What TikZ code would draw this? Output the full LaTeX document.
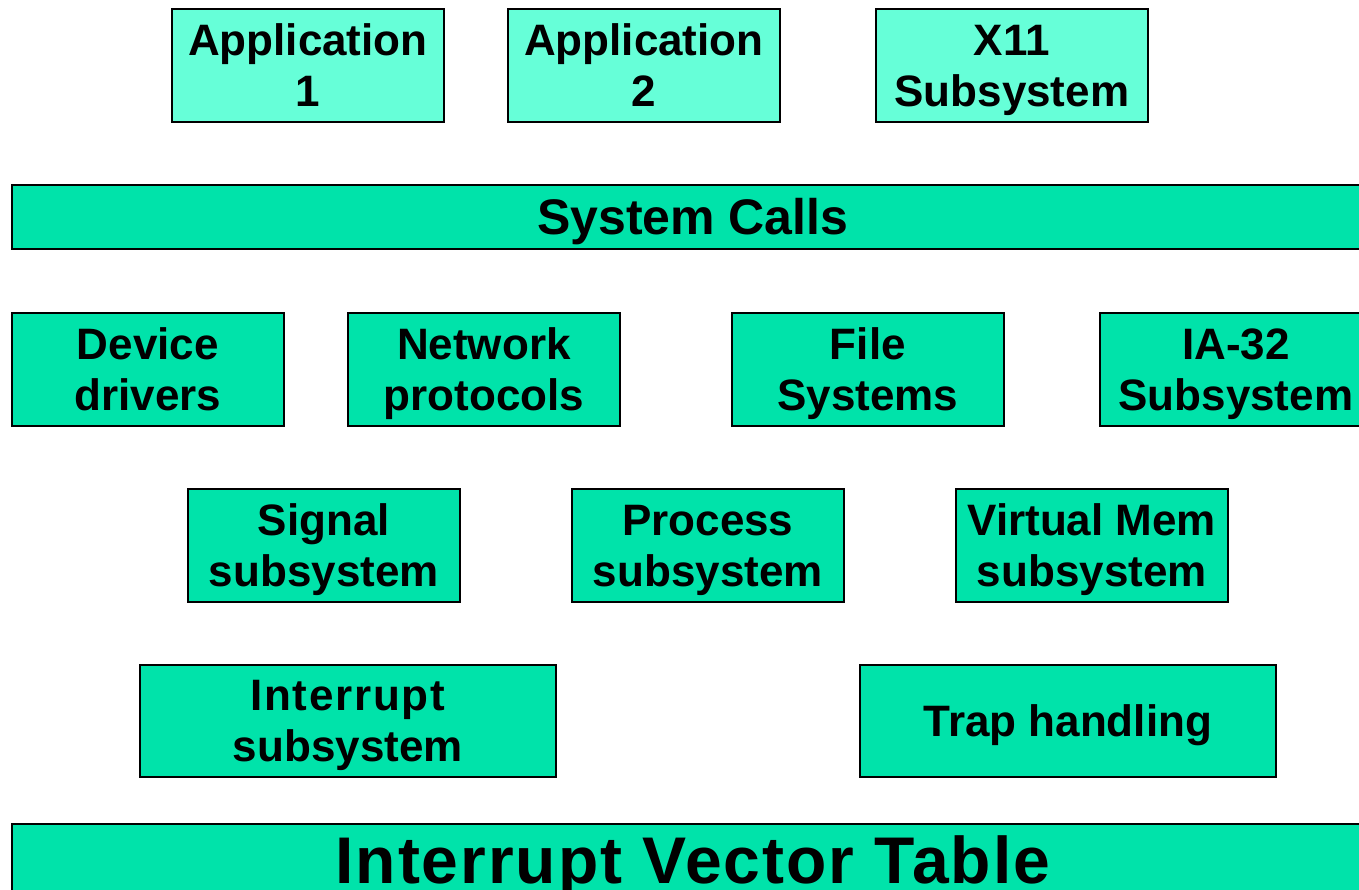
\documentclass[tikz,border=0pt]{standalone}
\usepackage{fontspec}
\setmainfont{Liberation Sans}
\definecolor{boxA}{HTML}{66FFD8}
\definecolor{boxB}{HTML}{00E3AA}
\newcommand{\sst}{\rule[-0.18em]{0pt}{1.09em}}
\newcommand{\twol}[2]{\sst #1\\#2\sst}
\begin{document}
\begin{tikzpicture}[x=1pt,y=1pt,
  blk/.style={draw=black, line width=1.6pt, fill=boxB, inner sep=0pt, align=center,
    font=\fontsize{44}{51}\selectfont\bfseries, minimum width=272pt, minimum height=113pt, anchor=north west},
  app/.style={blk, fill=boxA},
  wideblk/.style={blk, minimum width=416pt, minimum height=112pt}]
\useasboundingbox (0,0) rectangle (1359,889);
\clip (0,0) rectangle (1359,889);
% applications
\node[app] (app1) at (171,881) {\twol{Application}{1}};
\node[app] (app2) at (507,881) {\twol{Application}{2}};
\node[app] (x11) at (875,881) {\twol{X11}{Subsystem}};
% system calls
\node[blk, minimum width=1362pt, minimum height=64pt, font=\fontsize{50}{56}\selectfont\bfseries] (sys) at (11,705) {\sst System Calls};
% middle row
\node[blk] (dev) at (11,577) {\twol{Device}{drivers}};
\node[blk] (net) at (347,577) {\twol{Network}{protocols}};
\node[blk] (fs) at (731,577) {\twol{File}{Systems}};
\node[blk] (ia) at (1099,577) {\twol{IA-32}{Subsystem}};
% subsystems
\node[blk] (sig) at (187,401) {\twol{Signal}{subsystem}};
\node[blk] (proc) at (571,401) {\twol{Process}{subsystem}};
\node[blk] (vm) at (955,401) {\twol{Virtual Mem}{subsystem}};
% interrupt / trap
\node[wideblk] (intr) at (139,225) {\twol{{\addfontfeature{LetterSpace=4}Interrupt}}{subsystem}};
\node[wideblk] (trap) at (859,225) {\sst Trap handling};
% vector table
\node[blk, minimum width=1362pt, minimum height=70pt, font=\fontsize{66}{72}\selectfont\bfseries\addfontfeature{LetterSpace=3}] (ivt) at (11,66) {\sst Interrupt Vector Table};
\end{tikzpicture}
\end{document}
